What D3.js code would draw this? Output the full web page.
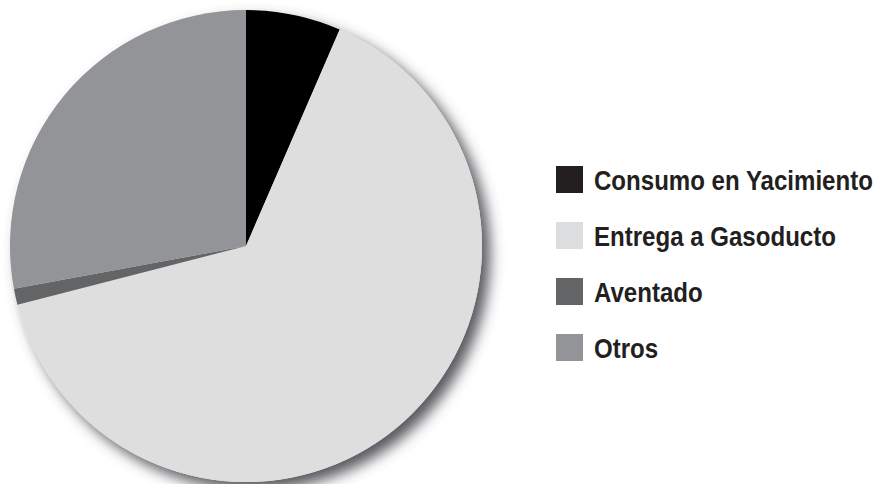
<!DOCTYPE html>
<html>
<head>
<meta charset="utf-8">
<script src="https://cdn.jsdelivr.net/npm/d3@7"></script>
<style>
  body { margin: 0; background: #fff; }
  svg { display: block; }
  .legend text { font-family: "Liberation Sans Narrow", "Arial Narrow", "Liberation Sans", Arial, sans-serif; font-weight: bold; fill: #231f20; }
</style>
</head>
<body>
<div id="chart"></div>
<script>
// slice categories and shares (%), clockwise from 12 o'clock
const categories = ["Consumo en Yacimiento", "Entrega a Gasoducto", "Aventado", "Otros"];
const shares = [6.5, 64.5, 1.1, 27.9];
const sliceColors = ["#000000", "#dedede", "#636466", "#939498"];
const legendColors = ["#231f20", "#dcdddf", "#636466", "#939498"];

const width = 878, height = 484;
const cx = 246, cy = 246, radius = 236;

const svg = d3.select("#chart").append("svg")
    .attr("width", width)
    .attr("height", height);

const defs = svg.append("defs");
const shadow = defs.append("filter")
    .attr("id", "shadow")
    .attr("x", "-20%").attr("y", "-20%")
    .attr("width", "140%").attr("height", "140%");
shadow.append("feDropShadow")
    .attr("dx", 8)
    .attr("dy", 8)
    .attr("stdDeviation", 7)
    .attr("flood-color", "#45454e")
    .attr("flood-opacity", 0.9);

const pie = d3.pie()
    .sort(null)
    .value(d => d.value);

const arc = d3.arc()
    .innerRadius(0)
    .outerRadius(radius);

const data = categories.map((c, i) => ({name: c, value: shares[i], color: sliceColors[i]}));

const g = svg.append("g")
    .attr("transform", `translate(${cx},${cy})`);

// shadow disc behind the slices
g.append("circle")
    .attr("r", radius)
    .attr("fill", "#dedede")
    .attr("filter", "url(#shadow)");

g.selectAll("path.slice")
    .data(pie(data))
    .enter()
    .append("path")
    .attr("class", "slice")
    .attr("d", arc)
    .attr("fill", d => d.data.color);

// legend
const legendX = 556, legendY = 166, rowStep = 56, box = 27;
const legend = svg.append("g").attr("class", "legend");

const rows = legend.selectAll("g.row")
    .data(data)
    .enter()
    .append("g")
    .attr("class", "row")
    .attr("transform", (d, i) => `translate(${legendX},${legendY + i * rowStep})`);

rows.append("rect")
    .attr("width", box)
    .attr("height", box)
    .attr("fill", (d, i) => legendColors[i]);

const labels = rows.append("text")
    .attr("x", 0)
    .attr("y", 24)
    .style("font-size", "28px")
    .text(d => d.name);

// squeeze labels to the condensed width seen in the reference
const firstWidth = labels.node().getComputedTextLength();
const sx = 279 / firstWidth;
labels.attr("transform", `translate(38,0) scale(${sx},1)`);
</script>
</body>
</html>
